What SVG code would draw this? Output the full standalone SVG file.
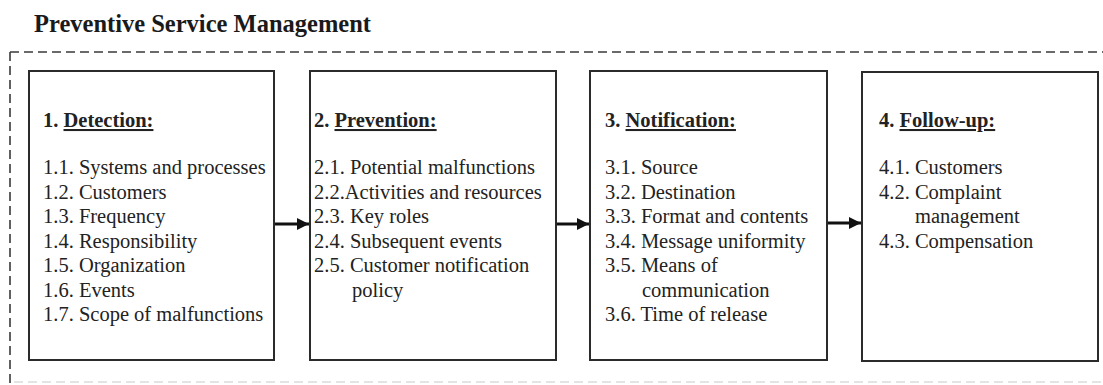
<svg xmlns="http://www.w3.org/2000/svg" width="1103" height="385" viewBox="0 0 1103 385">
  <style>
    .title { font-family: "Liberation Serif", "Times New Roman", serif; font-size: 24.5px; font-weight: bold; fill: #1a1a1a; }
    .box { fill: #ffffff; stroke: #2b2b2b; stroke-width: 2; }
    .txt { font-family: "Liberation Serif", "Times New Roman", serif; font-size: 20.5px; fill: #222222; }
    .head { font-weight: bold; }
    .ul { text-decoration: underline; }
    .frame { fill: none; stroke: #3a3a3a; stroke-width: 1.6; stroke-dasharray: 9 5; }
    .frame-faint { fill: none; stroke: #dcdcdc; stroke-width: 1.6; stroke-dasharray: 9 5; }
    .link { stroke: #111111; stroke-width: 3; fill: none; }
  </style>
  <defs>
    <marker id="arrowhead" viewBox="0 0 10 10" refX="10" refY="5" markerWidth="4" markerHeight="4" orient="auto" markerUnits="strokeWidth">
      <path d="M0,0 L10,5 L0,10 z" fill="#111111"/>
    </marker>
  </defs>

  <rect x="0" y="0" width="1103" height="385" fill="#ffffff"/>

  <text class="title" x="34" y="32">Preventive Service Management</text>

  <!-- dashed enclosure -->
  <g id="frame">
    <line class="frame" x1="10" y1="52" x2="1103" y2="52"/>
    <line class="frame" x1="10" y1="52" x2="10" y2="385"/>
    <line class="frame-faint" x1="14" y1="382" x2="1103" y2="382"/>
  </g>

  <g id="detection">
    <rect class="box" x="29" y="71" width="245" height="289"/>
    <text class="txt" x="43">
      <tspan class="head" x="43" y="127">1. <tspan class="ul">Detection:</tspan></tspan>
      <tspan x="43" y="174">1.1. Systems and processes</tspan>
      <tspan x="43" y="198.5">1.2. Customers</tspan>
      <tspan x="43" y="223">1.3. Frequency</tspan>
      <tspan x="43" y="247.5">1.4. Responsibility</tspan>
      <tspan x="43" y="272">1.5. Organization</tspan>
      <tspan x="43" y="296.5">1.6. Events</tspan>
      <tspan x="43" y="321">1.7. Scope of malfunctions</tspan>
    </text>
  </g>

  <g id="prevention">
    <rect class="box" x="310" y="71" width="246" height="289"/>
    <text class="txt">
      <tspan class="head" x="314" y="127">2. <tspan class="ul">Prevention:</tspan></tspan>
      <tspan x="314" y="174">2.1. Potential malfunctions</tspan>
      <tspan x="314" y="198.5">2.2.Activities and resources</tspan>
      <tspan x="314" y="223">2.3. Key roles</tspan>
      <tspan x="314" y="247.5">2.4. Subsequent events</tspan>
      <tspan x="314" y="272">2.5. Customer notification</tspan>
      <tspan x="352" y="296.5">policy</tspan>
    </text>
  </g>

  <g id="notification">
    <rect class="box" x="590" y="71" width="237" height="289"/>
    <text class="txt">
      <tspan class="head" x="605" y="127">3. <tspan class="ul">Notification:</tspan></tspan>
      <tspan x="605" y="174">3.1. Source</tspan>
      <tspan x="605" y="198.5">3.2. Destination</tspan>
      <tspan x="605" y="223">3.3. Format and contents</tspan>
      <tspan x="605" y="247.5">3.4. Message uniformity</tspan>
      <tspan x="605" y="272">3.5. Means of</tspan>
      <tspan x="642" y="296.5">communication</tspan>
      <tspan x="605" y="321">3.6. Time of release</tspan>
    </text>
  </g>

  <g id="follow-up">
    <rect class="box" x="862" y="72" width="236" height="289"/>
    <text class="txt">
      <tspan class="head" x="879" y="127">4. <tspan class="ul">Follow-up:</tspan></tspan>
      <tspan x="879" y="174">4.1. Customers</tspan>
      <tspan x="879" y="198.5">4.2. Complaint</tspan>
      <tspan x="915" y="223">management</tspan>
      <tspan x="879" y="247.5">4.3. Compensation</tspan>
    </text>
  </g>

  <g id="connectors">
    <line class="link" x1="275" y1="224" x2="309" y2="224" marker-end="url(#arrowhead)"/>
    <line class="link" x1="557" y1="224" x2="589" y2="224" marker-end="url(#arrowhead)"/>
    <line class="link" x1="828" y1="223" x2="861" y2="223" marker-end="url(#arrowhead)"/>
  </g>
</svg>
